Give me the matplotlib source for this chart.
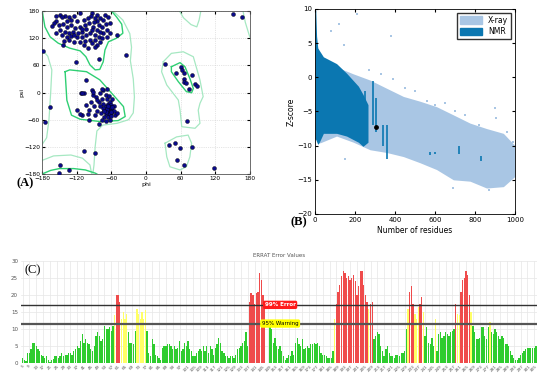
import numpy as np
import matplotlib
matplotlib.use('Agg')
import matplotlib.pyplot as plt
from matplotlib.patches import Patch

# ---------------- (A) Ramachandran plot data ----------------
beta_phi = [-149, -140, -134, -146, -114, -94, -96, -85, -80, -71, -65, -62, -69, -85, -101, -108,
            -120, -129, -137, -155, -160, -162, -150, -143, -137, -130, -123, -114, -106, -98, -91,
            -82, -77, -68, -74, -80, -85, -94, -103, -111, -117, -126, -134, -140, -149, -155, -146,
            -137, -129, -120, -111, -104, -97, -88, -82, -77, -68, -62, -50, -80, -88, -97, -106,
            -114, -125, -133, -142, -108, -94, -85, -143, -100, -88, -155, -125, -88, -75, -90,
            -110, -125]
beta_psi = [171, 169, 167, 166, 175, 176, 169, 172, 164, 171, 167, 153, 151, 159, 164, 160,
            159, 160, 159, 159, 153, 147, 149, 151, 145, 149, 142, 145, 149, 153, 145,
            149, 144, 138, 131, 134, 138, 137, 140, 134, 131, 134, 131, 134, 137, 131, 127,
            123, 125, 122, 123, 127, 131, 127, 122, 120, 123, 131, 127, 112, 116, 117, 114,
            112, 112, 116, 114, 105, 109, 105, 105, 98, 100, 170, 170, 165, 160, 155,
            140, 128]

alpha_phi = [-65, -62, -68, -70, -60, -66, -72, -58, -64, -70, -75, -62, -68, -60, -55, -74, -78,
             -66, -72, -60, -56, -80, -82, -76, -70, -64, -58, -84, -88, -90, -95, -86, -80, -74,
             -68, -92, -98, -104, -110, -115, -100, -112, -108, -62, -70, -76, -54, -50, -63, -67,
             -61, -69, -73, -65, -59, -94, -91, -77, -85]
alpha_psi = [-40, -35, -42, -30, -45, -25, -38, -38, -48, -48, -35, -20, -15, -28, -40, -25, -45,
             -55, -55, -52, -30, -30, -20, -15, -5, -8, -15, -40, -50, -30, -20, -10, 0, 5,
             8, -5, -38, -28, -50, -48, -48, 0, -2, -60, -62, -60, -50, -45, -33, -37,
             -42, -44, -41, -30, -33, 6, 2, 7, -17]

other_phi = [-178, -167, -174, -122, -82, -35, -103, -111, -120, -98, -81, -107, -89, -149, -150,
             -134, 150, 167, 33, 60, 52, 62, 66, 80, 66, 65, 70, 85, 89, 75, 71, 40, 51, 59, 79,
             54, 65, 118]
other_psi = [92, -33, -66, 67, 73, 83, 27, -2, -39, -61, -70, -129, -134, -161, -178,
             -171, 173, 167, 63, 57, 44, 50, 44, 38, 29, 24, 20, 19, 14, 7, -64, -116, -112, -123,
             -120, -148, -159, -167]

# favoured (0.02) contours
fav_beta_phi = [-180, -179, -175, -166, -152, -132, -114, -104, -97, -88, -80, -74, -71, -65, -51,
                -40, -42, -51, -59, -60]
fav_beta_psi = [180, 175, 145, 123, 109, 98, 92, 79, 61, 50, 51, 68, 94, 112, 120,
                131, 151, 167, 179, 180]
fav_bot_phi = [-180, -165, -150, -125, -105, -88, -85]
fav_bot_psi = [-180, -172, -168, -168, -171, -178, -180]
fav_alpha_phi = [-140, -132, -103, -80, -57, -39, -36, -48, -80, -114, -129, -137, -140]
fav_alpha_psi = [46, 50, 46, 28, -5, -31, -53, -62, -64, -59, -50, -17, 46]
fav_l_phi = [44, 59, 67.5, 76, 82, 79, 70, 56, 44, 44]
fav_l_psi = [57, 66, 57, 31, 9, -0.5, 2, 24, 46, 57]

# allowed (0.0005) contours
alw_outer_phi = [-57, -40, -28, -25, -27, -22, -20, -22, -30, -50, -75, -85, -88, -90, -92]
alw_outer_psi = [180, 160, 130, 100, 70, 30, -10, -45, -60, -68, -72, -85, -120, -160, -180]
alw_left_phi = [-180, -170, -163, -165, -168, -172, -180]
alw_left_psi = [95, 80, 50, 0, -60, -100, -115]
alw_bl_phi = [-180, -160, -130, -110, -97, -94]
alw_bl_psi = [-150, -140, -138, -145, -160, -180]
alw_l_phi = [30, 44, 64.6, 82, 93.5, 99, 93.5, 90.5, 93.5, 85, 62, 59, 56, 36, 27, 30]
alw_l_psi = [68, 86.5, 90, 79, 27.6, -9, -24, -39, -68, -79, -75.5, -39, -16.6, 16.6, 46, 68]
alw_b_phi = [33, 53, 73, 79, 76, 70, 59, 41.5, 36, 33]
alw_b_psi = [-112, -98, -94, -112, -142, -164, -171, -164, -142, -112]
alw_t_phi = [58, 65, 78, 88, 92, 95]
alw_t_psi = [180, 165, 150, 145, 160, 180]
alw_r_phi = [168, 172, 178, 180]
alw_r_psi = [180, 155, 130, 122]

# ---------------- (B) Z-score plot data ----------------
xray_n = [0, 8, 25, 108, 192, 275, 358, 442, 525, 608, 692, 775, 858, 942, 1000]
xray_top = [4.5, 4.0, 2.5, 1.5, 0.5, -0.4, -1.6, -2.8, -3.5, -4.3, -5.5, -6.7, -7.5, -8.2, -10.0]
xray_bot = [-9.0, -9.1, -9.6, -8.6, -9.5, -10.6, -11.0, -11.6, -12.5, -13.5, -15.0, -15.2, -16.2,
            -16.0, -14.5]
nmr_n = [0, 4, 8, 14, 20, 42, 108, 158, 217, 240, 265]
nmr_top = [10, 9.8, 6.0, 4.3, 4.0, 3.0, 2.0, 0.6, -1.3, -2.5, -4.0]
nmr_bot = [-9.0, -9.1, -9.4, -9.8, -9.6, -8.2, -8.2, -8.6, -9.5, -10.1, -9.5]
nmr_streak_n = [250, 290, 305, 340, 360, 575, 600, 720, 830]
nmr_streak_lo = [-9.0, -7.0, -8.0, -10.0, -12.0, -11.3, -11.2, -11.2, -12.3]
nmr_streak_hi = [-2.0, -0.5, -3.0, -7.0, -7.0, -11.0, -11.0, -10.0, -11.5]
xray_out_n = [210, 120, 80, 380, 145, 270, 330, 390, 450, 500, 560, 600, 650, 700, 750, 820, 900,
              905, 960, 990, 150, 690, 830, 870]
xray_out_z = [9.2, 7.8, 6.8, 6.0, 4.8, 1.0, 0.5, -0.3, -1.5, -2.0, -3.5, -4.0, -3.8, -5.0, -5.5,
              -7.0, -4.5, -6.0, -8.0, -9.5, -12.0, -16.2, -15.5, -16.5]
query_n = [305]
query_z = [-7.3]

# ---------------- (C) ERRAT data ----------------
errat = [1.5, 1.0, 0.5, 3.0, 3.0, 4.0, 6.0, 6.0, 5.0, 4.0,
         3.5, 2.5, 2.0, 1.5, 2.0, 1.0, 0.3, 1.0, 1.2, 2.0,
         2.0, 1.5, 2.0, 3.0, 2.0, 2.5, 2.5, 2.8, 3.0, 2.5,
         3.5, 4.0, 5.0, 4.5, 6.5, 8.5, 6.0, 7.0, 6.0, 5.5,
         4.0, 3.5, 5.0, 8.0, 9.0, 8.0, 6.5, 7.0, 11.0, 10.0,
         10.0, 10.5, 9.5, 11.0, 14.0, 20.0, 20.0, 18.0, 13.0, 15.0,
         13.0, 14.5, 9.0, 6.0, 6.0, 5.5, 9.5, 16.0, 14.5, 13.0,
         15.0, 13.0, 15.5, 9.5, 3.0, 2.0, 7.0, 5.5, 2.5, 2.0,
         1.5, 1.0, 4.5, 5.0, 5.0, 5.5, 5.5, 5.0, 4.0, 5.0,
         4.0, 4.5, 6.5, 3.5, 4.0, 6.0, 5.0, 6.5, 4.0, 3.5,
         2.0, 2.0, 3.0, 3.5, 4.0, 3.5, 5.0, 3.5, 5.0, 3.0,
         5.0, 4.0, 2.5, 4.5, 5.5, 7.5, 6.0, 3.5, 3.0, 2.0,
         2.0, 1.5, 2.0, 2.0, 1.5, 2.5, 4.0, 4.5, 5.0, 6.0,
         6.5, 9.0, 5.0, 18.0, 20.5, 20.0, 17.5, 20.5, 21.0, 26.5,
         24.5, 20.0, 18.0, 0.0, 0.0, 11.0, 10.0, 6.0, 7.5, 5.0,
         4.0, 5.0, 3.5, 2.0, 1.0, 1.5, 2.5, 2.0, 3.5, 2.5,
         6.0, 7.5, 5.5, 5.0, 7.0, 4.0, 4.5, 5.0, 4.5, 5.5,
         5.5, 6.0, 5.5, 6.0, 5.0, 3.0, 2.5, 2.5, 2.0, 1.5,
         1.5, 1.5, 3.5, 13.0, 17.5, 21.0, 23.0, 25.5, 27.0, 26.5,
         25.0, 25.5, 24.5, 25.0, 26.0, 24.0, 20.0, 22.5, 27.0, 27.0,
         23.0, 20.0, 18.0, 16.0, 17.5, 18.0, 7.0, 8.0, 9.0, 8.5,
         5.0, 3.5, 2.0, 4.0, 5.0, 3.0, 2.0, 2.0, 1.5, 2.5,
         2.5, 2.0, 3.0, 3.0, 3.5, 10.0, 16.0, 21.0, 22.5, 17.5,
         14.5, 13.0, 16.5, 17.5, 19.5, 15.0, 8.0, 10.5, 6.0, 5.5,
         7.5, 5.0, 13.0, 3.5, 8.5, 9.0, 7.5, 8.0, 9.0, 8.5,
         8.0, 9.0, 9.5, 10.0, 17.5, 14.5, 14.0, 21.0, 24.5, 25.0,
         27.0, 26.0, 20.0, 15.0, 11.0, 9.0, 7.0, 7.0, 7.5, 10.5,
         10.5, 8.0, 7.0, 10.5, 12.0, 9.0, 8.5, 10.0, 9.0, 8.0,
         7.0, 8.0, 7.5, 5.5, 5.5, 5.0, 3.5, 2.5, 1.5, 1.0,
         1.0, 1.5, 2.5, 3.0, 3.5, 4.0, 4.5, 4.5, 4.5, 4.5,
         4.5, 5.0]
first_residue = 5
error_level = 17.1
warning_level = 11.6

fig = plt.figure(figsize=(5.5, 3.85), dpi=100)

# ---------- panel A ----------
axA = fig.add_axes([0.0764, 0.548, 0.378, 0.4234])
dark = '#2fcf73'
light = '#a6e8c2'
for px, py in [(alw_outer_phi, alw_outer_psi), (alw_left_phi, alw_left_psi), (alw_bl_phi, alw_bl_psi),
               (alw_l_phi, alw_l_psi), (alw_b_phi, alw_b_psi), (alw_t_phi, alw_t_psi),
               (alw_r_phi, alw_r_psi)]:
    axA.plot(px, py, color=light, lw=0.9)
for px, py in [(fav_beta_phi, fav_beta_psi), (fav_bot_phi, fav_bot_psi),
               (fav_alpha_phi, fav_alpha_psi), (fav_l_phi, fav_l_psi)]:
    axA.plot(px, py, color=dark, lw=1.0)
axA.scatter(beta_phi + alpha_phi + other_phi, beta_psi + alpha_psi + other_psi,
            s=8, color='#0a0a8c', edgecolor='k', lw=0.3, zorder=3)
axA.set_xlim(-180, 180)
axA.set_ylim(-180, 180)
ticks = [-180, -120, -60, 0, 60, 120, 180]
axA.set_xticks(ticks)
axA.set_yticks(ticks)
axA.tick_params(labelsize=4.2, length=2, direction='in', top=True, right=True, pad=1.5)
axA.grid(True, color='#cccccc', ls=':', lw=0.5)
axA.set_xlabel('phi', fontsize=4.5, labelpad=1)
axA.set_ylabel('psi', fontsize=4.5, labelpad=0)
for s in axA.spines.values():
    s.set_color('#555555')
    s.set_linewidth(0.6)
fig.text(0.03, 0.515, '(A)', fontsize=9, family='Liberation Serif', fontweight='bold', ha='left')

# ---------- panel B ----------
axB = fig.add_axes([0.5727, 0.4442, 0.3636, 0.5325])
xcol = '#a9c6e4'
ncol = '#0b77b1'
axB.fill_between(xray_n, xray_bot, xray_top, color=xcol, lw=0)
axB.scatter(xray_out_n, xray_out_z, s=2, marker='s', color=xcol, lw=0)
axB.fill_between(nmr_n, nmr_bot, nmr_top, color=ncol, lw=0)
axB.vlines(nmr_streak_n, nmr_streak_lo, nmr_streak_hi, color=ncol, lw=1.2)
axB.scatter(query_n, query_z, s=6, color='k', zorder=4)
axB.set_xlim(0, 1000)
axB.set_ylim(-20, 10)
axB.set_xticks([0, 200, 400, 600, 800, 1000])
axB.set_yticks([-20, -15, -10, -5, 0, 5, 10])
axB.tick_params(labelsize=5, length=2.5, direction='in', top=True, right=True, pad=2)
axB.set_xlabel('Number of residues', fontsize=5.5, labelpad=2)
axB.set_ylabel('Z-score', fontsize=5.5, labelpad=1)
for s in axB.spines.values():
    s.set_linewidth(0.6)
axB.legend(handles=[Patch(color=xcol, label='X-ray'), Patch(color=ncol, label='NMR')],
           loc='upper right', fontsize=5.5, frameon=True, fancybox=False, edgecolor='k',
           borderpad=0.4, handlelength=2.8, handleheight=1.2, labelspacing=0.3)
fig.text(0.528, 0.415, '(B)', fontsize=9, family='Liberation Serif', fontweight='bold', ha='left')

# ---------- panel C ----------
axC = fig.add_axes([0.038, 0.0571, 0.938, 0.265])
res = np.arange(first_residue, first_residue + len(errat))
vals = np.array(errat)
cols = np.where(vals > error_level, '#ef4b4b', np.where(vals > warning_level, '#ffff66', '#2fcc2f'))
axC.bar(res, vals, width=0.78, color=cols, lw=0, zorder=2)
axC.axhline(error_level, color='#333333', lw=1.0, zorder=3)
axC.axhline(warning_level, color='#555555', lw=1.6, zorder=3)
axC.set_xlim(first_residue - 1, first_residue + len(errat) - 0.5)
axC.set_ylim(0, 30)
axC.set_xticks(np.arange(first_residue, first_residue + len(errat), 4))
axC.tick_params(axis='x', labelsize=3, labelrotation=45, length=0, pad=1, labelcolor='#555555')
axC.set_yticks([0, 5, 10, 15, 20, 25, 30])
axC.tick_params(axis='y', labelsize=4, length=0, pad=2, labelcolor='#555555')
axC.grid(True, color='#e6e6e6', lw=0.5, zorder=0)
axC.set_axisbelow(True)
for s in axC.spines.values():
    s.set_visible(False)
axC.text(156, error_level, '99% Error', fontsize=4, color='white', fontweight='bold',
         ha='center', va='center', zorder=5,
         bbox=dict(boxstyle='round,pad=0.3', fc='#ff1a1a', ec='none'))
axC.text(156, warning_level, '95% Warning', fontsize=4, color='black',
         ha='center', va='center', zorder=5,
         bbox=dict(boxstyle='round,pad=0.3', fc='#ffff00', ec='none'))
axC.set_title('ERRAT Error Values', fontsize=4, color='#555555', pad=3)
fig.text(0.045, 0.29, '(C)', fontsize=9, family='Liberation Serif', ha='left')

fig.savefig('out.png', dpi=100)
